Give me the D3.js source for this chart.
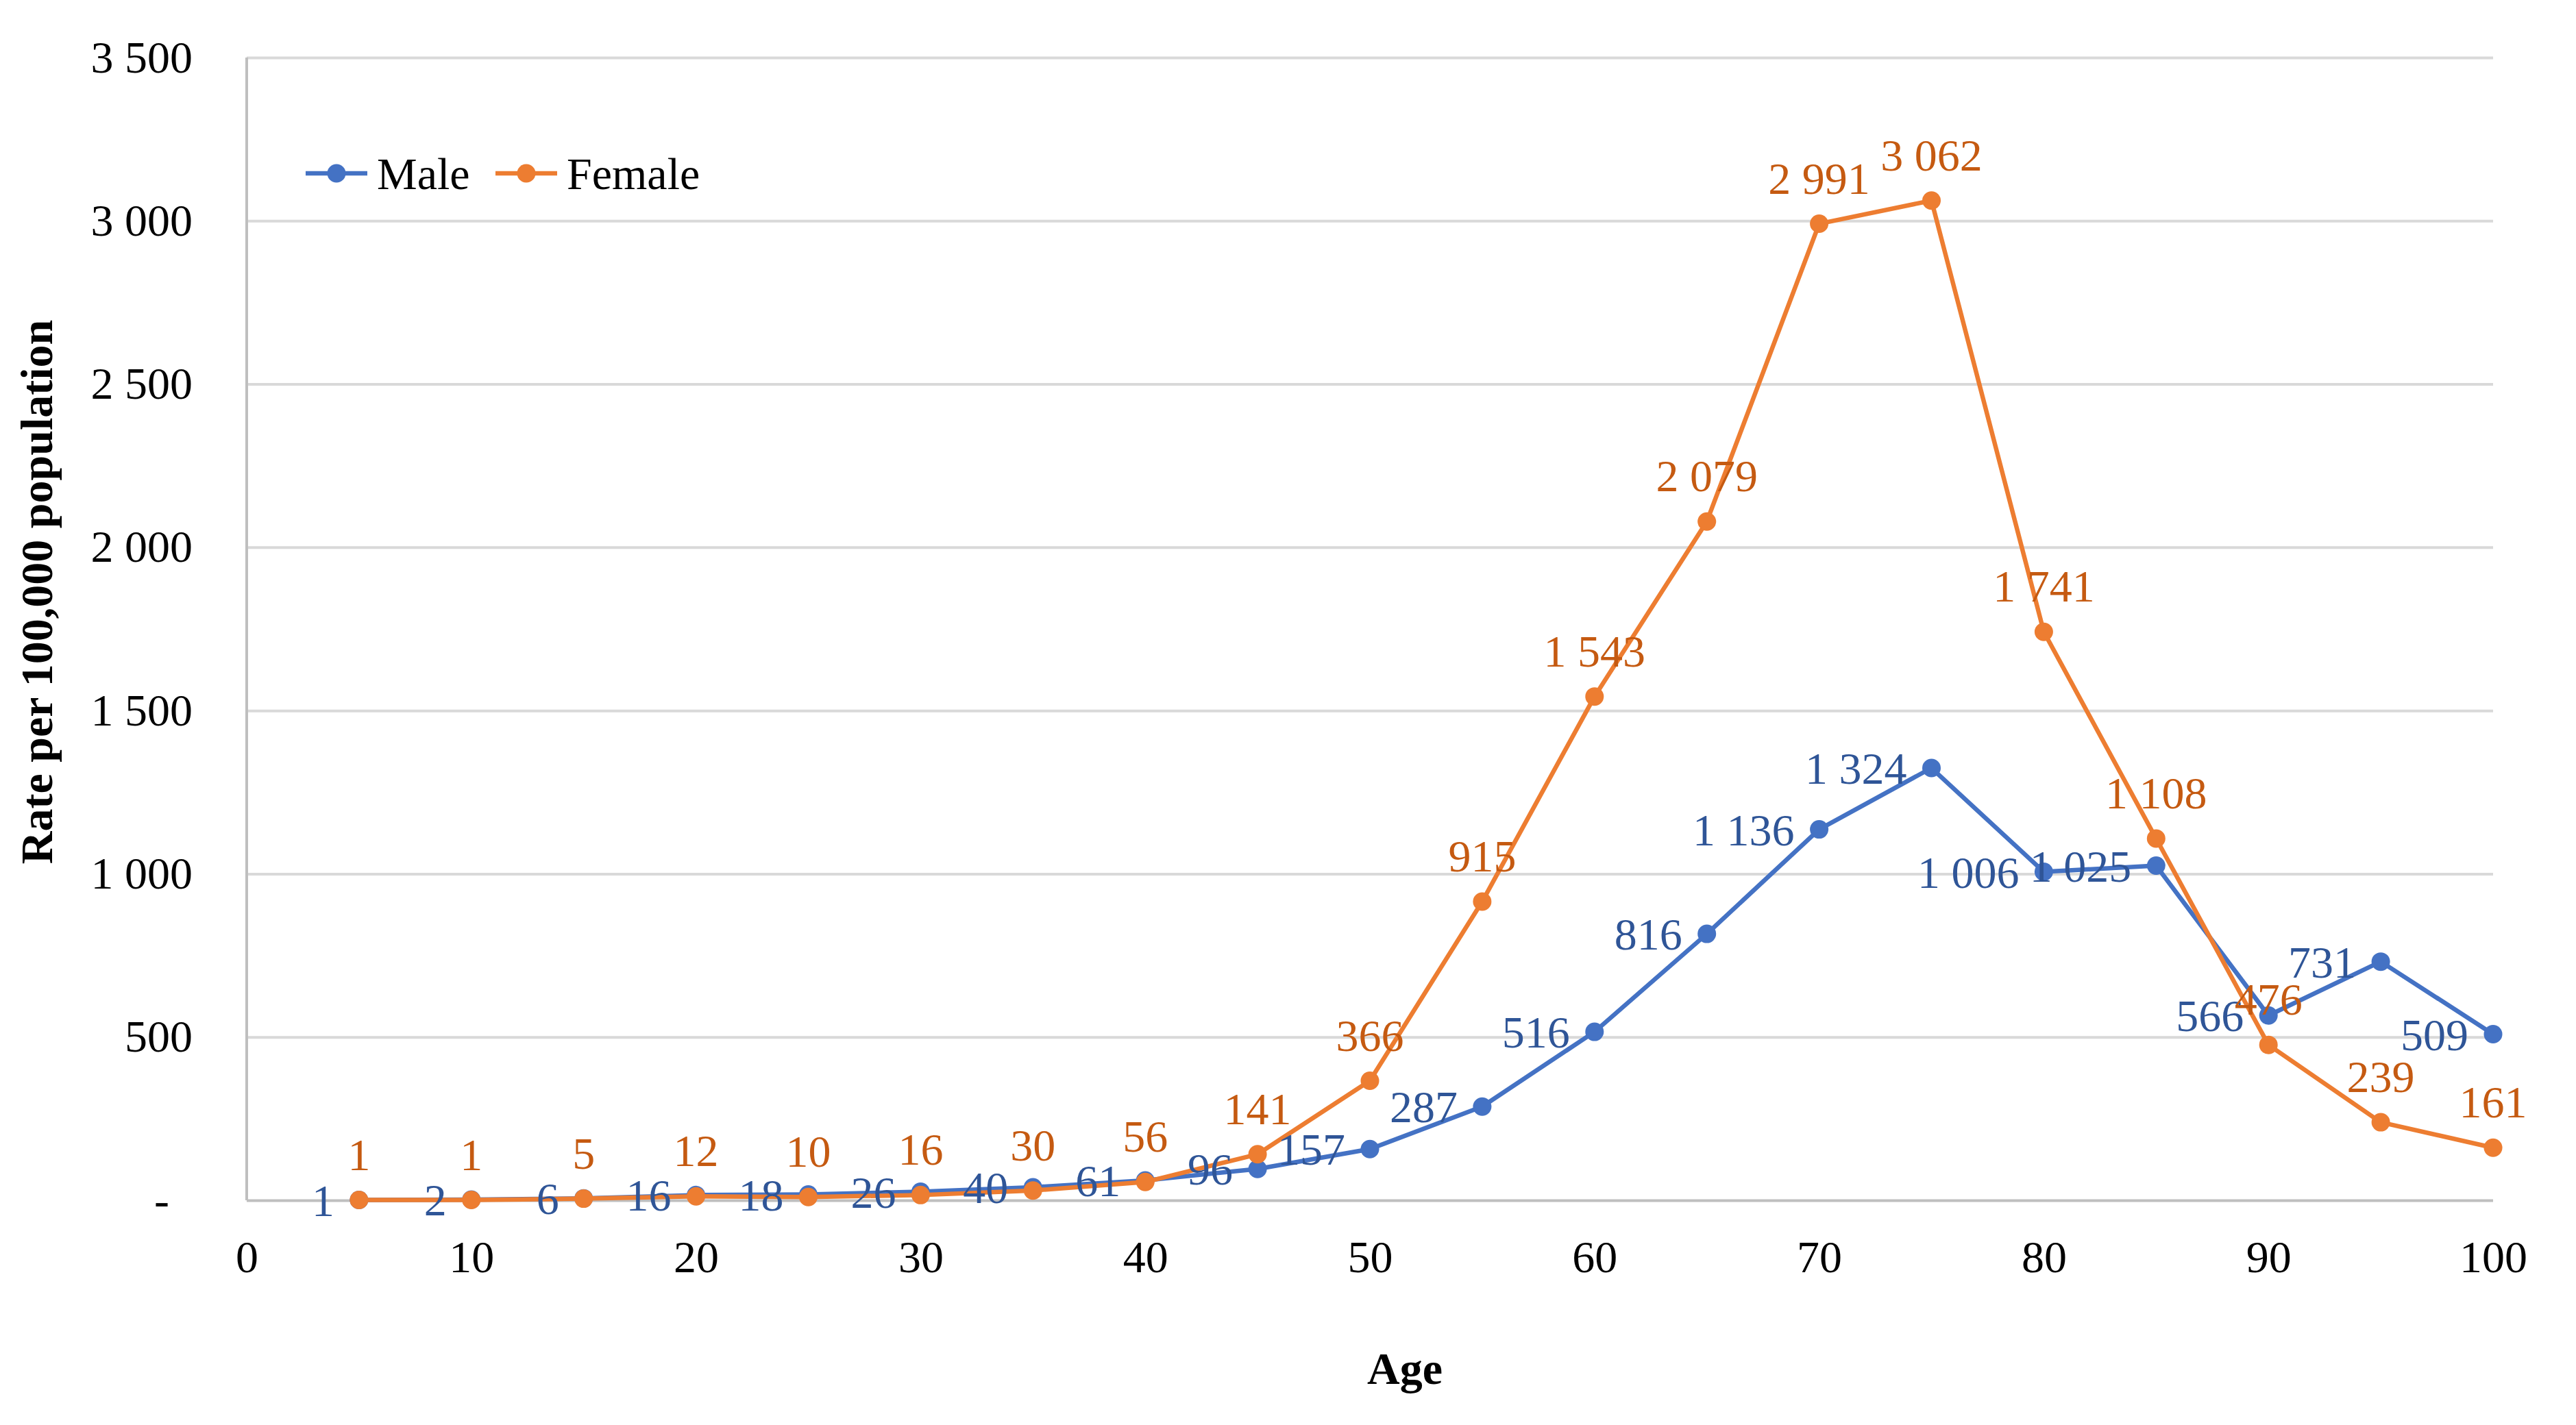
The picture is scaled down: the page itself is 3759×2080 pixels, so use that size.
<!DOCTYPE html>
<html>
<head>
<meta charset="utf-8">
<script src="https://cdn.jsdelivr.net/npm/d3@7"></script>
<style>
  body { margin: 0; background: #fff; }
  svg { display: block; font-family: "Liberation Serif", "Times New Roman", serif; }
</style>
</head>
<body>
<div class="chart"></div>
<script>
// data
var ages = [5, 10, 15, 20, 25, 30, 35, 40, 45, 50, 55, 60, 65, 70, 75, 80, 85, 90, 95, 100];
var male = [1, 2, 6, 16, 18, 26, 40, 61, 96, 157, 287, 516, 816, 1136, 1324, 1006, 1025, 566, 731, 509];
var female = [1, 1, 5, 12, 10, 16, 30, 56, 141, 366, 915, 1543, 2079, 2991, 3062, 1741, 1108, 476, 239, 161];
var xTicks = [0, 10, 20, 30, 40, 50, 60, 70, 80, 90, 100];
var yTicks = [0, 500, 1000, 1500, 2000, 2500, 3000, 3500];
var seriesNames = ['Male', 'Female'];

var settings = {
  w: 3759,
  h: 2080,
  left: 360,
  right: 3638,
  top: 84,
  bottom: 1752,
  fontSize: 66
};

var colors = { Male: '#4472C4', Female: '#ED7D31' };
var labelColors = { Male: '#2F5597', Female: '#C55A11' };

var fmt = function(v) {
  return v === 0 ? '-' : d3.format(',')(v).replace(/,/g, ' ');
};

var svg = d3.select('.chart')
  .append('svg')
  .attr('width', settings.w)
  .attr('height', settings.h);

var x = d3.scaleLinear().domain([0, 100]).range([settings.left, settings.right]);
var y = d3.scaleLinear().domain([0, 3500]).range([settings.bottom, settings.top]);

// y axis with gridlines
var yAxis = svg.append('g')
  .attr('transform', 'translate(' + settings.left + ',0)')
  .call(d3.axisLeft(y)
    .tickValues(yTicks)
    .tickSize(-(settings.right - settings.left))
    .tickPadding(79)
    .tickFormat(fmt));
yAxis.select('.domain').remove();
yAxis.selectAll('.tick line')
  .attr('stroke', function(d) { return d === 0 ? '#BFBFBF' : '#D9D9D9'; })
  .attr('stroke-width', 4);
yAxis.selectAll('.tick text')
  .attr('font-size', settings.fontSize)
  .attr('fill', '#000')
  .attr('font-family', '"Liberation Serif", serif')
  .filter(function(d) { return d === 0; })
  .attr('x', -113);

// left axis line
svg.append('line')
  .attr('x1', settings.left).attr('x2', settings.left)
  .attr('y1', y(3500)).attr('y2', y(0))
  .attr('stroke', '#BFBFBF')
  .attr('stroke-width', 4);

// x axis labels
var xAxis = svg.append('g')
  .attr('transform', 'translate(0,' + settings.bottom + ')')
  .call(d3.axisBottom(x).tickValues(xTicks).tickSize(0).tickPadding(58));
xAxis.select('.domain').remove();
xAxis.selectAll('.tick text')
  .attr('font-size', settings.fontSize)
  .attr('fill', '#000')
  .attr('font-family', '"Liberation Serif", serif');

// axis titles
svg.append('text')
  .attr('x', 2050)
  .attr('y', 1997)
  .attr('dy', '0.35em')
  .attr('text-anchor', 'middle')
  .attr('font-size', settings.fontSize)
  .attr('font-weight', 'bold')
  .text('Age');

svg.append('text')
  .attr('transform', 'translate(53,864) rotate(-90)')
  .attr('dy', '0.35em')
  .attr('text-anchor', 'middle')
  .attr('font-size', settings.fontSize)
  .attr('font-weight', 'bold')
  .text('Rate per 100,000 population');

var series = [
  { name: 'Male', values: male },
  { name: 'Female', values: female }
];

var line = d3.line()
  .x(function(d, i) { return x(ages[i]); })
  .y(function(d) { return y(d); });

series.forEach(function(s) {
  svg.append('path')
    .datum(s.values)
    .attr('d', line)
    .attr('fill', 'none')
    .attr('stroke', colors[s.name])
    .attr('stroke-width', 6.5)
    .attr('stroke-linejoin', 'round');

  svg.selectAll('.dot-' + s.name)
    .data(s.values)
    .enter()
    .append('circle')
    .attr('cx', function(d, i) { return x(ages[i]); })
    .attr('cy', function(d) { return y(d); })
    .attr('r', 13.5)
    .attr('fill', colors[s.name]);
});

// data labels: male to the left, female above
svg.selectAll('.lbl-male')
  .data(male)
  .enter()
  .append('text')
  .attr('x', function(d, i) { return x(ages[i]) - 36; })
  .attr('y', function(d) { return y(d); })
  .attr('dy', '0.35em')
  .attr('text-anchor', 'end')
  .attr('font-size', settings.fontSize)
  .attr('fill', labelColors.Male)
  .text(fmt);

svg.selectAll('.lbl-female')
  .data(female)
  .enter()
  .append('text')
  .attr('x', function(d, i) { return x(ages[i]); })
  .attr('y', function(d) { return y(d) - 44; })
  .attr('text-anchor', 'middle')
  .attr('font-size', settings.fontSize)
  .attr('fill', labelColors.Female)
  .text(fmt);

// legend
var legendX = [446, 723];
var legend = svg.selectAll('.legend')
  .data(seriesNames)
  .enter()
  .append('g')
  .attr('transform', function(d, i) { return 'translate(' + legendX[i] + ',253)'; });
legend.append('line')
  .attr('x1', 0).attr('x2', 90)
  .attr('stroke', function(d) { return colors[d]; })
  .attr('stroke-width', 6.5);
legend.append('circle')
  .attr('cx', 45)
  .attr('r', 13.5)
  .attr('fill', function(d) { return colors[d]; });
legend.append('text')
  .attr('x', 104)
  .attr('dy', '0.35em')
  .attr('font-size', settings.fontSize)
  .attr('fill', '#000')
  .text(function(d) { return d; });
</script>
</body>
</html>
